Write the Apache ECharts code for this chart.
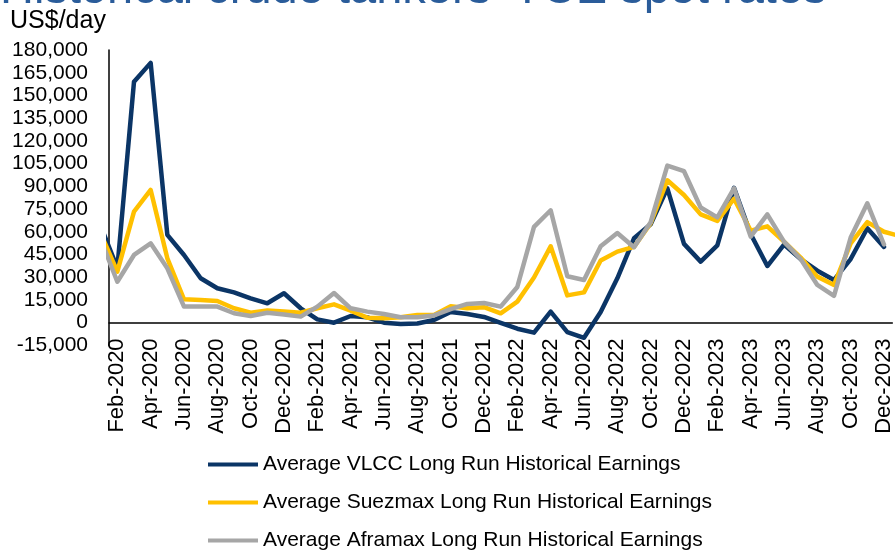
<!DOCTYPE html>
<html>
  <head>
    <meta charset="utf-8">
    <title>Historical crude tankers' TCE spot rates</title>
    <script src="https://cdn.jsdelivr.net/npm/echarts@6/dist/echarts.min.js"></script>
    <style>
      html, body { margin: 0; padding: 0; background: #fff; }
      #main { width: 895px; height: 551px; }
    </style>
  </head>
  <body>
    <div id="main"></div>
    <script>
      // months Jan-2020 .. Jan-2024 (first and last are only partly visible, clipped by the plot)
      var months = [
        'Jan-2020','Feb-2020','Mar-2020','Apr-2020','May-2020','Jun-2020','Jul-2020','Aug-2020','Sep-2020','Oct-2020','Nov-2020','Dec-2020',
        'Jan-2021','Feb-2021','Mar-2021','Apr-2021','May-2021','Jun-2021','Jul-2021','Aug-2021','Sep-2021','Oct-2021','Nov-2021','Dec-2021',
        'Jan-2022','Feb-2022','Mar-2022','Apr-2022','May-2022','Jun-2022','Jul-2022','Aug-2022','Sep-2022','Oct-2022','Nov-2022','Dec-2022',
        'Jan-2023','Feb-2023','Mar-2023','Apr-2023','May-2023','Jun-2023','Jul-2023','Aug-2023','Sep-2023','Oct-2023','Nov-2023','Dec-2023',
        'Jan-2024'
      ];
      // which months get a label (every second one, Feb-2020 .. Dec-2023)
      var labelIdx = [];
      for (var k = 1; k <= 47; k += 2) labelIdx.push(k);

      var yTicks = [-15000, 0, 15000, 30000, 45000, 60000, 75000, 90000, 105000, 120000, 135000, 150000, 165000, 180000];

      // US$/day, thousands
      var vlcc = [
        64, 36, 159, 171.5, 58, 44.7, 29.3, 22.7, 20, 16, 12.8, 19.4,
        9.5, 2.2, 0, 4.4, 3.5, 0, -0.9, -0.5, 1.8, 7, 5.7, 3.8,
        -0.2, -4, -6.6, 7.3, -6.2, -10, 7, 29.3, 55.7, 65, 88.7, 52,
        40.3, 51, 89, 58.5, 37.4, 51.5, 42, 34.3, 28.2, 42, 62.3, 50,
        null
      ];
      var suezmax = [
        59, 33.7, 73.3, 87.6, 42.5, 15.4, 15, 14.3, 9.5, 6.6, 8, 7.3,
        6.6, 9.5, 12.1, 7.9, 3.3, 2.9, 3.6, 5.1, 5.1, 10.8, 9.5, 10.2,
        6.2, 13.9, 29.8, 50.4, 18, 20, 41, 46.9, 50, 65.6, 94, 84.3,
        71.5, 67.2, 81.8, 60.8, 63.6, 53.5, 43, 30.4, 24.9, 52.4, 66.4, 60,
        57
      ];
      var aframax = [
        55, 27, 44.7, 52.4, 35.9, 10.6, 10.6, 10.6, 6.2, 4.4, 6.5, 5.4,
        4, 10.6, 19.6, 9.5, 7.3, 5.7, 3.6, 3.6, 4.8, 9, 12.4, 13,
        10.6, 23.6, 63.2, 74.2, 30.6, 28.2, 50.4, 59.2, 49.8, 66.3, 103.7, 100,
        76, 69.5, 88.7, 56.8, 71.5, 53.5, 42, 24.9, 17.7, 56.2, 78.8, 51.6,
        null
      ];

      var names = [
        'Average VLCC Long Run Historical Earnings',
        'Average Suezmax Long Run Historical Earnings',
        'Average Aframax Long Run Historical Earnings'
      ];
      var colors = ['#0B3566', '#FFC000', '#A6A6A6'];
      var legendTops = [449, 487, 525];

      function toPoints(arr) {
        var out = [];
        arr.forEach(function (v, i) {
          if (v !== null) out.push([i, v * 1000]);
        });
        return out;
      }

      function fmt(v) {
        return v.toLocaleString('en-US');
      }

      var font = "'Liberation Sans', Arial, sans-serif";
      var chart = echarts.init(document.getElementById('main'), null, { renderer: 'canvas' });

      chart.setOption({
        animation: false,
        color: colors,
        graphic: [
          {
            type: 'text', left: 0, top: -33,
            style: { text: "Historical crude tankers' TCE spot rates", fill: '#2A5C9A', font: "47px 'Liberation Sans', Arial, sans-serif" }
          },
          {
            type: 'text', left: 10, top: 9,
            style: { text: 'US$/day', fill: '#000', font: "25px 'Liberation Sans Narrow', 'Liberation Sans', Arial, sans-serif" }
          }
        ],
        grid: { left: 109, right: 2, top: 50, bottom: 205.6, containLabel: false },
        xAxis: {
          type: 'value',
          min: 0.5,
          max: 47.5,
          splitLine: { show: false },
          axisLine: { onZero: true, lineStyle: { color: '#000', width: 1.5 } },
          axisTick: { show: false },
          axisLabel: {
            customValues: labelIdx,
            rotate: 90,
            margin: -7,
            color: '#000',
            fontSize: 22,
            fontFamily: font,
            formatter: function (v) { return months[v]; }
          }
        },
        yAxis: {
          type: 'value',
          min: yTicks[0],
          max: yTicks[yTicks.length - 1],
          interval: 15000,
          splitLine: { show: false },
          axisLine: { show: true, onZero: false, lineStyle: { color: '#000', width: 1.5 } },
          axisTick: { show: false },
          axisLabel: { color: '#000', fontSize: 21, fontFamily: font, margin: 21, formatter: fmt }
        },
        // one legend per row so they stack like the original
        legend: names.map(function (n, i) {
          return {
            orient: 'vertical',
            left: 203,
            top: legendTops[i],
            itemWidth: 50,
            itemHeight: 4,
            icon: 'rect',
            textStyle: { color: '#000', fontSize: 21, fontFamily: font },
            data: [n]
          };
        }),
        series: [
          { name: names[0], type: 'line', data: toPoints(vlcc) },
          { name: names[1], type: 'line', data: toPoints(suezmax) },
          { name: names[2], type: 'line', data: toPoints(aframax) }
        ].map(function (s, i) {
          s.showSymbol = false;
          s.symbol = 'none';
          s.clip = true;
          s.lineStyle = { width: 4.5, color: colors[i], cap: 'round', join: 'round' };
          return s;
        })
      });
    </script>
  </body>
</html>
